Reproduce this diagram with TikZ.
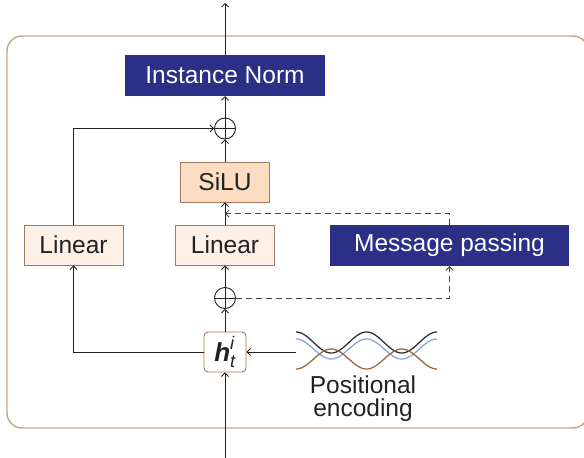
\documentclass[tikz,border=0pt]{standalone}
\usepackage{fontspec}
\setmainfont{Liberation Sans}
\usepackage{amsmath}
\usetikzlibrary{arrows.meta,calc}

\definecolor{navy}{HTML}{2B2F85}
\definecolor{peach}{HTML}{FBDDC2}
\definecolor{peachlt}{HTML}{FDF0E6}
\definecolor{boxedge}{HTML}{A57A5E}
\definecolor{framecol}{HTML}{C4A68E}
\definecolor{wblue}{HTML}{8FA5DA}
\definecolor{wbrown}{HTML}{9A6A40}
\definecolor{ink}{HTML}{222222}
\definecolor{dashcol}{HTML}{444444}

\tikzset{
  lbl/.style={font=\fontsize{24.5}{27}\selectfont, inner sep=0pt},
  navybox/.style={lbl, fill=navy, text=white, draw=none},
  linbox/.style={lbl, fill=peachlt, draw=boxedge, line width=0.9pt, text=ink,
    minimum width=99pt, minimum height=40pt},
  silubox/.style={lbl, fill=peach, draw=boxedge, line width=0.9pt, text=ink,
    minimum width=89pt, minimum height=40pt},
  hbox/.style={lbl, fill=white, draw=boxedge, line width=0.9pt, text=ink,
    rounded corners=4pt, minimum width=42pt, minimum height=40pt},
  oplus/.style={circle, draw=ink, line width=0.9pt, minimum size=21pt, inner sep=0pt,
    path picture={\draw[ink, line width=0.9pt]
      (path picture bounding box.north) -- (path picture bounding box.south)
      (path picture bounding box.west) -- (path picture bounding box.east);}},
  arr/.style={draw=ink, line width=0.8pt, -{Straight Barb[length=3.5pt,width=7pt]}},
  msgline/.style={arr, draw=dashcol, dash pattern=on 6pt off 4pt},
  wave/.style={line width=1.3pt, domain=0:141, samples=120, smooth},
}

\begin{document}
\begin{tikzpicture}[x=1pt, y=-1pt]
  \useasboundingbox (0,0) rectangle (584,458);

  % outer frame of the block
  \draw[framecol, line width=1.4pt, rounded corners=15pt] (7,36) rectangle (588,428);

  % blocks
  \node[navybox, minimum width=200pt, minimum height=41pt] (norm) at (225,75.5) {Instance Norm};
  \node[oplus] (add1) at (225,128.5) {};
  \node[silubox] (silu) at (225,182) {SiLU};
  \node[linbox] (lin2) at (225,245) {Linear};
  \node[linbox] (lin1) at (73.5,245) {Linear};
  \node[navybox, minimum width=239pt, minimum height=41pt] (msg) at (449.5,245.5) {Message passing};
  \node[oplus] (add2) at (225,298) {};
  \node[hbox, font=\fontsize{26}{28}\selectfont] (h) at (225,352)
    {$\textbf{\textit{h}}^{\textit{i}}_{\textit{t}}$};

  % positional encoding waves (period 70.5)
  \draw[wave, black!80] plot ({296+\x}, {342.5 - 10.5*cos(5.1064*\x)});
  \draw[wave, wblue]    plot ({296+\x}, {349 - 10*cos(5.1064*\x)});
  \draw[wave, wbrown]   plot ({296+\x}, {359 + 10*cos(5.1064*\x)});
  \coordinate (pewave) at (296,352);
  \node[lbl, align=center, anchor=north, text=ink, font=\fontsize{24.5}{23}\selectfont]
    (pe) at (363,376) {Positional\\encoding};

  % main path
  \coordinate (inp) at (225,458);
  \coordinate (out) at (225,3);
  \draw[arr] (inp) -- (h);
  \draw[arr] (h) -- (add2);
  \draw[arr] (add2) -- (lin2);
  \draw[arr] (lin2) -- (silu);
  \draw[arr] (silu) -- (add1);
  \draw[arr] (add1) -- (norm);
  \draw[arr] (norm) -- (out);

  % skip branch
  \draw[arr] (h.west) -| (lin1.south);
  \draw[arr] (lin1.north) |- (add1.west);

  % positional encoding input
  \draw[arr] (pewave) -- (h.east);

  % message passing loop
  \coordinate (mp) at ($(lin2.north)!0.5!(silu.south)$);
  \draw[msgline] (msg.north) |- (mp);
  \draw[msgline] (add2.east) -| (msg.south);
\end{tikzpicture}
\end{document}
